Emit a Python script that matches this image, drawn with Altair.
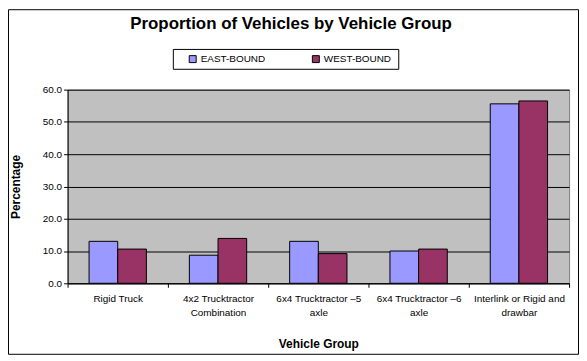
import altair as alt
import pandas as pd

title_text = "Proportion of Vehicles by Vehicle Group"
categories = [
    "Rigid Truck",
    "4x2 Trucktractor|Combination",
    "6x4 Trucktractor \u20135|axle",
    "6x4 Trucktractor \u20136|axle",
    "Interlink or Rigid and|drawbar",
]
east = [13.0, 8.7, 13.0, 10.0, 55.6]
west = [10.6, 13.9, 9.2, 10.6, 56.5]
series = ["EAST-BOUND", "WEST-BOUND"]
colors = ["#9999FF", "#993366"]
y_ticks = [0, 10, 20, 30, 40, 50, 60]

rows = []
for c, e, w in zip(categories, east, west):
    rows.append({"group": c, "direction": series[0], "pct": e})
    rows.append({"group": c, "direction": series[1], "pct": w})
df = pd.DataFrame(rows)

FONT = "Liberation Sans"
W, H = 505, 195

bars = alt.Chart(df).mark_bar(stroke="black", strokeWidth=1).encode(
    x=alt.X(
        "group:N",
        sort=categories,
        scale=alt.Scale(paddingInner=0, paddingOuter=0),
        axis=alt.Axis(
            title="Vehicle Group",
            titleFont=FONT,
            titleFontSize=12,
            titleFontWeight="bold",
            titleColor="black",
            titleX=W / 2,
            titleY=61,
            titleBaseline="middle",
            titleAlign="center",
            labelExpr="split(datum.label, '|')",
            labelAngle=0,
            labelFont=FONT,
            labelFontSize=10,
            labelColor="black",
            labelLineHeight=14,
            labelPadding=6,
            labelBaseline="top",
            tickBand="extent",
            tickSize=4,
            tickColor="black",
            domainColor="black",
            labelLimit=200,
        ),
    ),
    xOffset=alt.XOffset(
        "direction:N",
        sort=series,
        scale=alt.Scale(paddingInner=0, paddingOuter=0.75),
    ),
    y=alt.Y(
        "pct:Q",
        scale=alt.Scale(domain=[0, 60], nice=False),
        axis=alt.Axis(
            title="Percentage",
            titleFont=FONT,
            titleFontSize=12,
            titleFontWeight="bold",
            titleColor="black",
            titleX=-52,
            titleY=H / 2,
            titleAngle=-90,
            titleBaseline="middle",
            titleAlign="center",
            values=y_ticks,
            format=".1f",
            labelFont=FONT,
            labelFontSize=10,
            labelColor="black",
            labelPadding=2,
            tickSize=4,
            tickColor="black",
            domainColor="black",
            grid=True,
            gridColor="black",
            gridOpacity=1,
            gridWidth=1,
        ),
    ),
    color=alt.Color(
        "direction:N",
        sort=series,
        scale=alt.Scale(domain=series, range=colors),
        legend=alt.Legend(
            title=None,
            orient="none",
            direction="horizontal",
            legendX=121,
            legendY=-36,
            symbolType="square",
            symbolSize=49,
            symbolStrokeColor="black",
            symbolStrokeWidth=1,
            labelFont=FONT,
            labelFontSize=10,
            labelColor="black",
            labelOffset=3,
            columnPadding=44,
            padding=0,
        ),
    ),
)

one = pd.DataFrame({"k": [0]})

frame = alt.Chart(one).mark_rect(fill=None, stroke="black", strokeWidth=1).encode(
    x=alt.value(-59.5), x2=alt.value(514.5), y=alt.value(-80.5), y2=alt.value(266.5)
)

legend_box = alt.Chart(one).mark_rect(fill="white", stroke="black", strokeWidth=1).encode(
    x=alt.value(106.5), x2=alt.value(333.5), y=alt.value(-40.5), y2=alt.value(-20.5)
)

title = alt.Chart(one).mark_text(
    font=FONT, fontSize=17, fontWeight="bold", color="black",
    align="center", baseline="middle",
).encode(x=alt.value(225), y=alt.value(-66), text=alt.value(title_text))

chart = alt.layer(frame, legend_box, title, bars).properties(
    width=W,
    height=H,
    padding={"left": 60, "top": 81, "right": 10, "bottom": 73},
    autosize="none",
).configure(
    background="white",
    view=alt.ViewConfig(fill="#C0C0C0", stroke="#808080", strokeWidth=1),
)

chart.save("out.html", embed_options={"renderer": "svg", "actions": False})
